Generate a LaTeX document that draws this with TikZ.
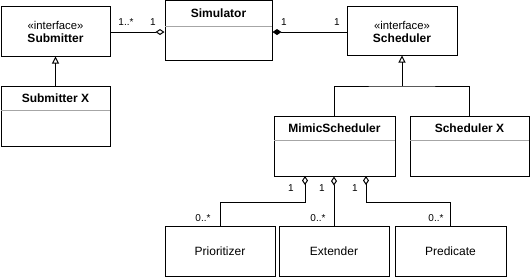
\documentclass[tikz,border=0pt]{standalone}
\usepackage{fontspec}
\setmainfont{Liberation Sans}
\usetikzlibrary{arrows.meta,calc}
\begin{document}
\begin{tikzpicture}[x=1pt,y=-1pt,
  box/.style={draw=black,line width=1pt,inner sep=0pt},
  title/.style={font=\fontsize{12}{14}\selectfont\bfseries,inner sep=0pt},
  plain/.style={font=\fontsize{12}{14}\selectfont,inner sep=0pt},
  stereo/.style={font=\fontsize{11.3}{13}\selectfont,inner sep=0pt},
  mult/.style={font=\fontsize{10}{12}\selectfont,inner sep=0pt},
  divider/.style={draw=gray!70,line width=0.8pt},
  conn/.style={draw=black,line width=1pt},
  inh/.style={conn,-{Triangle[open,length=7pt,width=7pt]}},
  aggo/.style={conn,{Diamond[open,length=9pt,width=6pt]}-},
  aggf/.style={conn,{Diamond[length=9pt,width=6pt]}-}
]
\useasboundingbox (0,0) rectangle (531,277);
\fill[white] (0,0) rectangle (531,277);
% boxes
\node[box,minimum width=109pt,minimum height=50pt] (sub) at (55.5,31) {};
\node[box,minimum width=109pt,minimum height=60pt] (subx) at (55.5,116) {};
\node[box,minimum width=107pt,minimum height=60pt] (sim) at (218.5,30.5) {};
\node[box,minimum width=110pt,minimum height=49pt] (sched) at (402,30.5) {};
\node[box,minimum width=121pt,minimum height=60pt] (mimic) at (334.5,146) {};
\node[box,minimum width=119pt,minimum height=60pt] (schedx) at (469.5,146) {};
\node[box,minimum width=110pt,minimum height=50pt] (prio) at (220,251) {};
\node[box,minimum width=110pt,minimum height=50pt] (ext) at (334,251) {};
\node[box,minimum width=111pt,minimum height=50pt] (pred) at (450.5,251) {};
% dividers
\draw[divider] ($(subx.north west)+(0.5,25)$) -- ($(subx.north east)+(-0.5,25)$);
\draw[divider] ($(sim.north west)+(0.5,26)$) -- ($(sim.north east)+(-0.5,26)$);
\draw[divider] ($(mimic.north west)+(0.5,25)$) -- ($(mimic.north east)+(-0.5,25)$);
\draw[divider] ($(schedx.north west)+(0.5,25)$) -- ($(schedx.north east)+(-0.5,25)$);
% texts
\node[stereo] (subst) at (55.5,25) {«interface»};
\node[title] (subt) at (55.5,38.5) {Submitter};
\node[title] (subxt) at (55.5,98.5) {Submitter X};
\node[title] (simt) at (218.5,13.5) {Simulator};
\node[stereo] (schedst) at (402,25) {«interface»};
\node[title] (schedt) at (402,38.5) {Scheduler};
\node[title] (mimict) at (334.5,128.5) {MimicScheduler};
\node[title] (schedxt) at (469.5,128.5) {Scheduler X};
\node[plain] (priot) at (220,251) {Prioritizer};
\node[plain] (extt) at (334,251) {Extender};
\node[plain] (predt) at (450.5,251) {Predicate};
% Submitter - Simulator
\draw[aggo] (sim.west |- 0,32) -- (sub.east |- 0,32);
\node[mult] (m1) at (126,22) {1..*};
\node[mult] (m2) at (153,22) {1};
% Simulator - Scheduler
\draw[aggf] (sim.east |- 0,32) -- (sched.west |- 0,32);
\node[mult] (m3) at (284,22) {1};
\node[mult] (m4) at (337,22) {1};
% inheritance
\draw[inh] (subx.north) -- (sub.south);
\coordinate (jn) at (402,86);
\draw[conn] (mimic.north) |- (jn) -| (schedx.north);
\draw[inh] (jn) -- (sched.south);
% aggregations
\coordinate (a1) at (305,176);
\coordinate (a3) at (366,176);
\draw[aggo] (a1) -- ++(0,26) -| (prio.north);
\draw[aggo] (ext.north |- mimic.south) -- (ext.north);
\draw[aggo] (a3) -- ++(0,26) -| (pred.north);
\node[mult] (l1) at (291,188) {1};
\node[mult] (l2) at (322,188) {1};
\node[mult] (l3) at (355,188) {1};
\node[mult] (n1) at (203,218) {0..*};
\node[mult] (n2) at (318,218) {0..*};
\node[mult] (n3) at (436,218) {0..*};
\end{tikzpicture}
\end{document}
